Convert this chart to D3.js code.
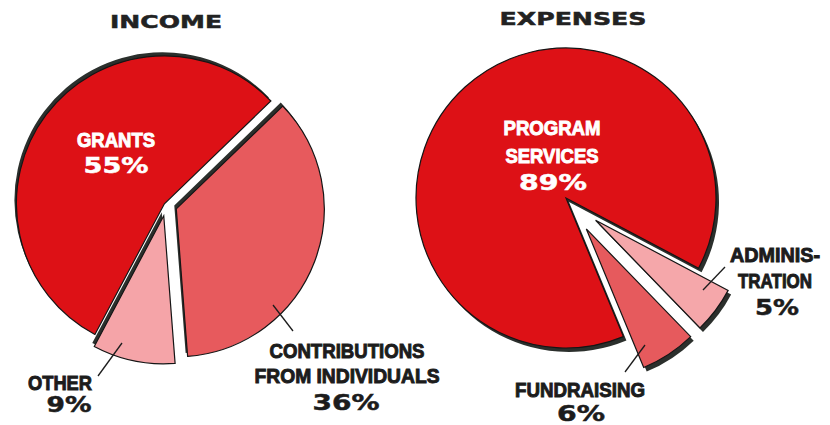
<!DOCTYPE html>
<html>
<head>
<meta charset="utf-8">
<script src="https://cdn.jsdelivr.net/npm/d3@7"></script>
<style>
	body { margin: 0; background: #fff; }
	svg { display: block; }
	.title, .pct { font-family: 'DejaVu Sans', 'Liberation Sans', sans-serif; font-weight: bold; }
	.name { font-family: 'Liberation Sans Narrow', 'Liberation Sans', Arial, sans-serif; font-weight: bold; }
</style>
</head>
<body>
<svg id="chart" width="830" height="425"></svg>
<script>
//---->DATA<-----//
const incomeCategories = ['Contributions from Individuals', 'Other', 'Grants'],
	incomeValues = [36, 9, 55],
	incomeLabelLines = [['CONTRIBUTIONS', 'FROM INDIVIDUALS'], ['OTHER'], ['GRANTS']];

const expenseCategories = ['Program Services', 'Administration', 'Fundraising'],
	expenseValues = [89, 5, 6],
	expenseLabelLines = [['PROGRAM', 'SERVICES'], ['ADMINIS-', 'TRATION'], ['FUNDRAISING']];

const chartTitles = ['INCOME', 'EXPENSES'];

//---->LAYOUT<-----//
const rad = Math.PI / 180;

const layouts = [
	{
		title: { x: 166, y: 28, w: 112 },
		cx: 166, cy: 205, r: 148,
		start: 46,
		explode: [11, 11, 2],
		shadow: [-2, -3.5],
		colors: ['#e75a5d', '#f5a4a8', '#dd1116'],
		labels: [
			{ x: 347, ys: [358, 383], ws: [155, 185], px: 346, py: 410, pw: 67, fill: '#1c1c1c', leader: [[273, 305], [293, 331]] },
			{ x: 60, ys: [390], ws: [64], px: 69, py: 412, pw: 45, fill: '#1c1c1c', leader: [[122, 343], [98, 376]] },
			{ x: 116, ys: [147], ws: [78], px: 116, py: 173, pw: 65, fill: '#fff' }
		]
	},
	{
		title: { x: 573, y: 25, w: 147 },
		cx: 566, cy: 198, r: 150,
		start: 157.5,
		explode: [0, 37, 37],
		shadow: [3, 4],
		colors: ['#dd1116', '#f5a7aa', '#e65a5d'],
		labels: [
			{ x: 552, ys: [135, 163], ws: [97, 93], px: 553, py: 190, pw: 68, fill: '#fff' },
			{ x: 775, ys: [262, 288], ws: [90, 74], px: 777, py: 315, pw: 44, fill: '#1c1c1c', leader: [[703, 290], [725, 267]] },
			{ x: 580, ys: [397], ws: [130], px: 581, py: 421, pw: 48, fill: '#1c1c1c', leader: [[645, 345], [625, 372]] }
		]
	}
];

const datasets = [
	{ cats: incomeCategories, vals: incomeValues, lines: incomeLabelLines },
	{ cats: expenseCategories, vals: expenseValues, lines: expenseLabelLines }
];

const svg = d3.select('#chart');

function drawPie(ds, lay, title) {
	const g = svg.append('g');

	const pie = d3.pie()
		.sort(null)
		.value(d => d.value)
		.startAngle(lay.start * rad)
		.endAngle(lay.start * rad + 2 * Math.PI);

	const arc = d3.arc()
		.innerRadius(0)
		.outerRadius(lay.r);

	const rows = ds.cats.map((c, i) => ({ name: c, value: ds.vals[i], i: i }));
	const arcs = pie(rows);

	// offset of each slice along its bisector
	const offset = d => {
		const mid = (d.startAngle + d.endAngle) / 2,
			e = lay.explode[d.data.i];
		return [lay.cx + e * Math.sin(mid), lay.cy - e * Math.cos(mid)];
	};

	// shadows first
	g.selectAll('.shadow')
		.data(arcs)
		.enter().append('path')
		.attr('class', 'shadow')
		.attr('transform', d => {
			const o = offset(d);
			return `translate(${o[0] + lay.shadow[0]}, ${o[1] + lay.shadow[1]})`;
		})
		.attr('d', arc)
		.attr('fill', '#2b2f2c');

	g.selectAll('.slice')
		.data(arcs)
		.enter().append('path')
		.attr('class', 'slice')
		.attr('transform', d => `translate(${offset(d)})`)
		.attr('d', arc)
		.attr('fill', d => lay.colors[d.data.i])
		.attr('stroke', '#151515')
		.attr('stroke-width', 1.2)
		.attr('stroke-linejoin', 'miter');

	// leader lines
	lay.labels.forEach(l => {
		if (!l.leader) return;
		g.append('line')
			.attr('x1', l.leader[0][0]).attr('y1', l.leader[0][1])
			.attr('x2', l.leader[1][0]).attr('y2', l.leader[1][1])
			.attr('stroke', '#1c1c1c')
			.attr('stroke-width', 1.3);
	});

	// labels
	arcs.forEach(d => {
		const l = lay.labels[d.data.i];
		ds.lines[d.data.i].forEach((txt, k) => {
			g.append('text')
				.attr('class', 'name')
				.attr('x', l.x)
				.attr('y', l.ys[k])
				.attr('text-anchor', 'middle')
				.attr('font-size', 21)
				.attr('textLength', l.ws[k])
				.attr('lengthAdjust', 'spacingAndGlyphs')
				.attr('fill', l.fill)
				.attr('stroke', l.fill)
				.attr('stroke-width', 1)
				.text(txt);
		});
		g.append('text')
			.attr('class', 'pct')
			.attr('x', l.px)
			.attr('y', l.py)
			.attr('text-anchor', 'middle')
			.attr('font-size', 21)
			.attr('textLength', l.pw)
			.attr('lengthAdjust', 'spacingAndGlyphs')
			.attr('fill', l.fill)
			.attr('stroke', l.fill)
			.attr('stroke-width', 0.5)
			.text(d.data.value + '%');
	});

	svg.append('text')
		.attr('class', 'title')
		.attr('x', lay.title.x)
		.attr('y', lay.title.y)
		.attr('text-anchor', 'middle')
		.attr('font-size', 18)
		.attr('textLength', lay.title.w)
		.attr('lengthAdjust', 'spacingAndGlyphs')
		.attr('fill', '#222')
		.attr('stroke', '#222')
		.attr('stroke-width', 0.5)
		.text(title);
}

datasets.forEach((ds, i) => drawPie(ds, layouts[i], chartTitles[i]));
</script>
</body>
</html>
